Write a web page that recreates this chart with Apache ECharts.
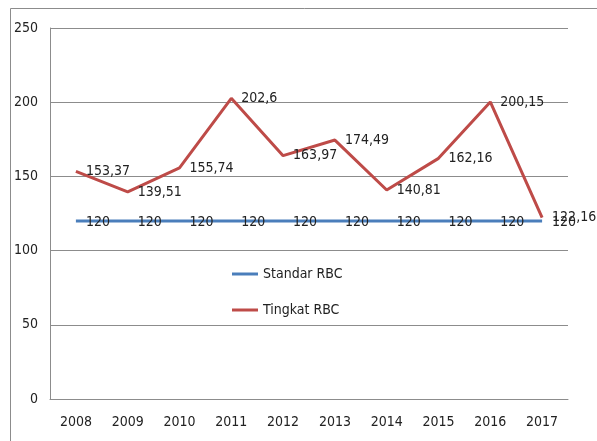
<!DOCTYPE html>
<html>
<head>
<meta charset="utf-8">
<script src="https://cdn.jsdelivr.net/npm/echarts@6/dist/echarts.min.js"></script>
<style>
html,body{margin:0;padding:0;background:#fff;}
#c{width:597px;height:441px;}
</style>
</head>
<body>
<div id="c"></div>
<script>
const categories = ['2008','2009','2010','2011','2012','2013','2014','2015','2016','2017'];
const standarRBC = [120,120,120,120,120,120,120,120,120,120];
const tingkatRBC = [153.37,139.51,155.74,202.6,163.97,174.49,140.81,162.16,200.15,122.16];
const yTicks = {min:0, max:250, interval:50};

const FONT = '"DejaVu Sans Condensed","Liberation Sans Narrow",sans-serif';
const FS = 14;
const fmt = p => String(p.value).replace('.', ',');

const chart = echarts.init(document.getElementById('c'), null, {renderer:'canvas'});
chart.setOption({
  animation:false,
  backgroundColor:'#fff',
  graphic:[{
    type:'rect', shape:{x:10.5,y:8.5,width:600,height:450},
    style:{fill:'none',stroke:'#8c8c8c',lineWidth:1}, z:-1, silent:true
  }],
  grid:{left:50,right:29,top:28,bottom:42},
  legend:{
    orient:'vertical', left:227, top:261,
    icon:'rect', itemWidth:26, itemHeight:3, itemGap:20,
    textStyle:{fontFamily:FONT,fontSize:FS,color:'#222',lineHeight:16},
    data:['Standar RBC','Tingkat RBC']
  },
  xAxis:{
    type:'category', data:categories, boundaryGap:true,
    axisLine:{show:true,lineStyle:{color:'#8c8c8c',width:1}},
    axisTick:{show:false},
    axisLabel:{fontFamily:FONT,fontSize:FS,color:'#222',margin:16}
  },
  yAxis:{
    type:'value', min:yTicks.min, max:yTicks.max, interval:yTicks.interval,
    axisLine:{show:true,lineStyle:{color:'#8c8c8c',width:1}},
    axisTick:{show:false},
    splitLine:{show:true,lineStyle:{color:'#8c8c8c',width:1}},
    axisLabel:{fontFamily:FONT,fontSize:FS,color:'#222',margin:12}
  },
  series:[
    {
      name:'Standar RBC', type:'line', data:standarRBC,
      symbol:'circle', symbolSize:0, showSymbol:true,
      lineStyle:{color:'#4a7ebb',width:3}, itemStyle:{color:'#4a7ebb'},
      label:{show:true,position:'right',distance:10,formatter:fmt,offset:[0,1],
        fontFamily:FONT,fontSize:FS,color:'#222'},
      z:2
    },
    {
      name:'Tingkat RBC', type:'line', data:tingkatRBC,
      symbol:'circle', symbolSize:0, showSymbol:true,
      lineStyle:{color:'#be4b48',width:3}, itemStyle:{color:'#be4b48'},
      label:{show:true,position:'right',distance:10,formatter:fmt,
        fontFamily:FONT,fontSize:FS,color:'#222'},
      z:3
    }
  ]
});
</script>
</body>
</html>
